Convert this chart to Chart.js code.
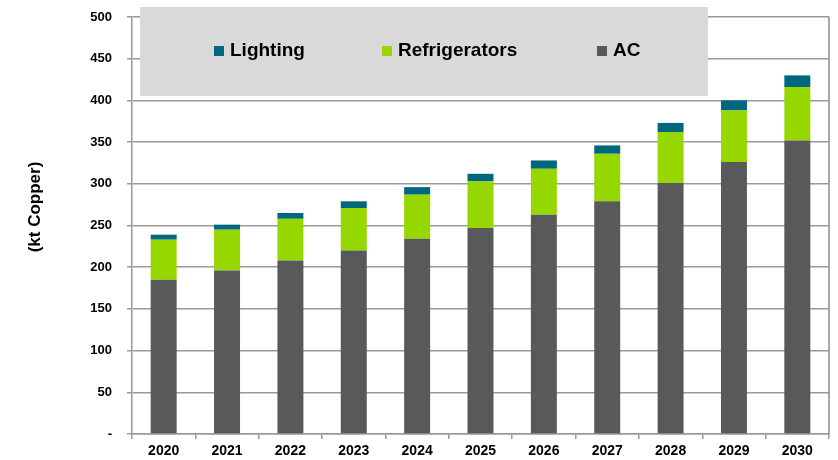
<!DOCTYPE html>
<html>
<head>
<meta charset="utf-8">
<script src="https://cdn.jsdelivr.net/npm/chart.js@4/dist/chart.umd.min.js"></script>
<style>
  html, body { margin: 0; padding: 0; background: #ffffff; }
  #wrap { width: 838px; height: 460px; }
</style>
</head>
<body>
<div id="wrap"><canvas id="c" width="838" height="460"></canvas></div>
<script>
const years = ['2020','2021','2022','2023','2024','2025','2026','2027','2028','2029','2030'];
const acValues = [185, 196, 208, 220, 234, 247, 263, 279, 301, 326, 352];
const refrigeratorValues = [48, 49, 50, 51, 53, 56, 55, 57, 61, 62, 64];
const lightingValues = [6, 6, 7, 8, 9, 9, 10, 10, 11, 12, 14];
const yTicks = [0, 50, 100, 150, 200, 250, 300, 350, 400, 450, 500];
const yTitle = '(kt Copper)';
const legendOrder = ['Lighting', 'Refrigerators', 'AC'];

const FONT = "'Liberation Sans', Arial, sans-serif";

const legendBoxPlugin = {
  id: 'legendBox',
  afterDraw(chart) {
    const ctx = chart.ctx;
    ctx.save();
    ctx.fillStyle = '#d9d9d9';
    ctx.fillRect(140, 7, 568, 89);
    const xs = [214, 382, 597];
    ctx.font = 'bold 19px ' + FONT;
    ctx.textBaseline = 'middle';
    ctx.textAlign = 'left';
    legendOrder.forEach((name, i) => {
      const ds = chart.data.datasets.find(d => d.label === name);
      ctx.fillStyle = ds.backgroundColor;
      ctx.fillRect(xs[i], 46, 10, 10);
      ctx.fillStyle = '#000000';
      ctx.fillText(name, xs[i] + 16, 51);
    });
    ctx.restore();
  }
};

const frameTitlePlugin = {
  id: 'frameTitle',
  beforeDatasetsDraw(chart) {
    const a = chart.chartArea;
    const ctx = chart.ctx;
    ctx.save();
    ctx.strokeStyle = '#8c8c8c';
    ctx.lineWidth = 1.5;
    ctx.beginPath();
    ctx.moveTo(a.right, a.top);
    ctx.lineTo(a.right, a.bottom);
    ctx.stroke();
    ctx.restore();
  },
  afterDraw(chart) {
    const ctx = chart.ctx;
    ctx.save();
    ctx.translate(35, 207);
    ctx.rotate(-Math.PI / 2);
    ctx.font = 'bold 17px ' + FONT;
    ctx.fillStyle = '#000000';
    ctx.textAlign = 'center';
    ctx.textBaseline = 'middle';
    ctx.fillText(yTitle, 0, 0);
    ctx.restore();
  }
};

new Chart(document.getElementById('c'), {
  type: 'bar',
  data: {
    labels: years,
    datasets: [
      { label: 'AC', data: acValues, backgroundColor: '#58595b', borderWidth: 0 },
      { label: 'Refrigerators', data: refrigeratorValues, backgroundColor: '#97d700', borderWidth: 0 },
      { label: 'Lighting', data: lightingValues, backgroundColor: '#00677f', borderWidth: 0 }
    ]
  },
  options: {
    responsive: false,
    animation: false,
    devicePixelRatio: 1,
    layout: { padding: { left: 0, right: 9, top: 17, bottom: 0 } },
    datasets: { bar: { categoryPercentage: 1.0, barPercentage: 0.41 } },
    plugins: {
      legend: { display: false },
      tooltip: { enabled: false },
      title: { display: false }
    },
    scales: {
      x: {
        stacked: true,
        offset: true,
        grid: { display: true, drawOnChartArea: false, drawTicks: true, tickLength: 5, color: '#999999', lineWidth: 1.5, offset: true },
        border: { display: true, color: '#999999', width: 1.5 },
        ticks: { color: '#000000', font: { family: FONT, size: 14, weight: 'bold' }, padding: 4, maxRotation: 0, autoSkip: false },
        afterFit(scale) { scale.height = 26; }
      },
      y: {
        stacked: true,
        min: 0,
        max: 500,
        afterBuildTicks(scale) { scale.ticks = yTicks.map(v => ({ value: v })); },
        grid: { color: '#999999', lineWidth: 1.5, tickLength: 5, drawTicks: true },
        border: { display: true, color: '#999999', width: 1.5 },
        ticks: {
          color: '#000000',
          font: { family: FONT, size: 13, weight: 'bold' },
          padding: 15,
          callback: (v) => (v === 0 ? '-' : String(v))
        },
        afterFit(scale) {
          scale.width = 132;
          scale.paddingTop = 8;
          scale.paddingBottom = 8;
        }
      }
    }
  },
  plugins: [frameTitlePlugin, legendBoxPlugin]
});
</script>
</body>
</html>
